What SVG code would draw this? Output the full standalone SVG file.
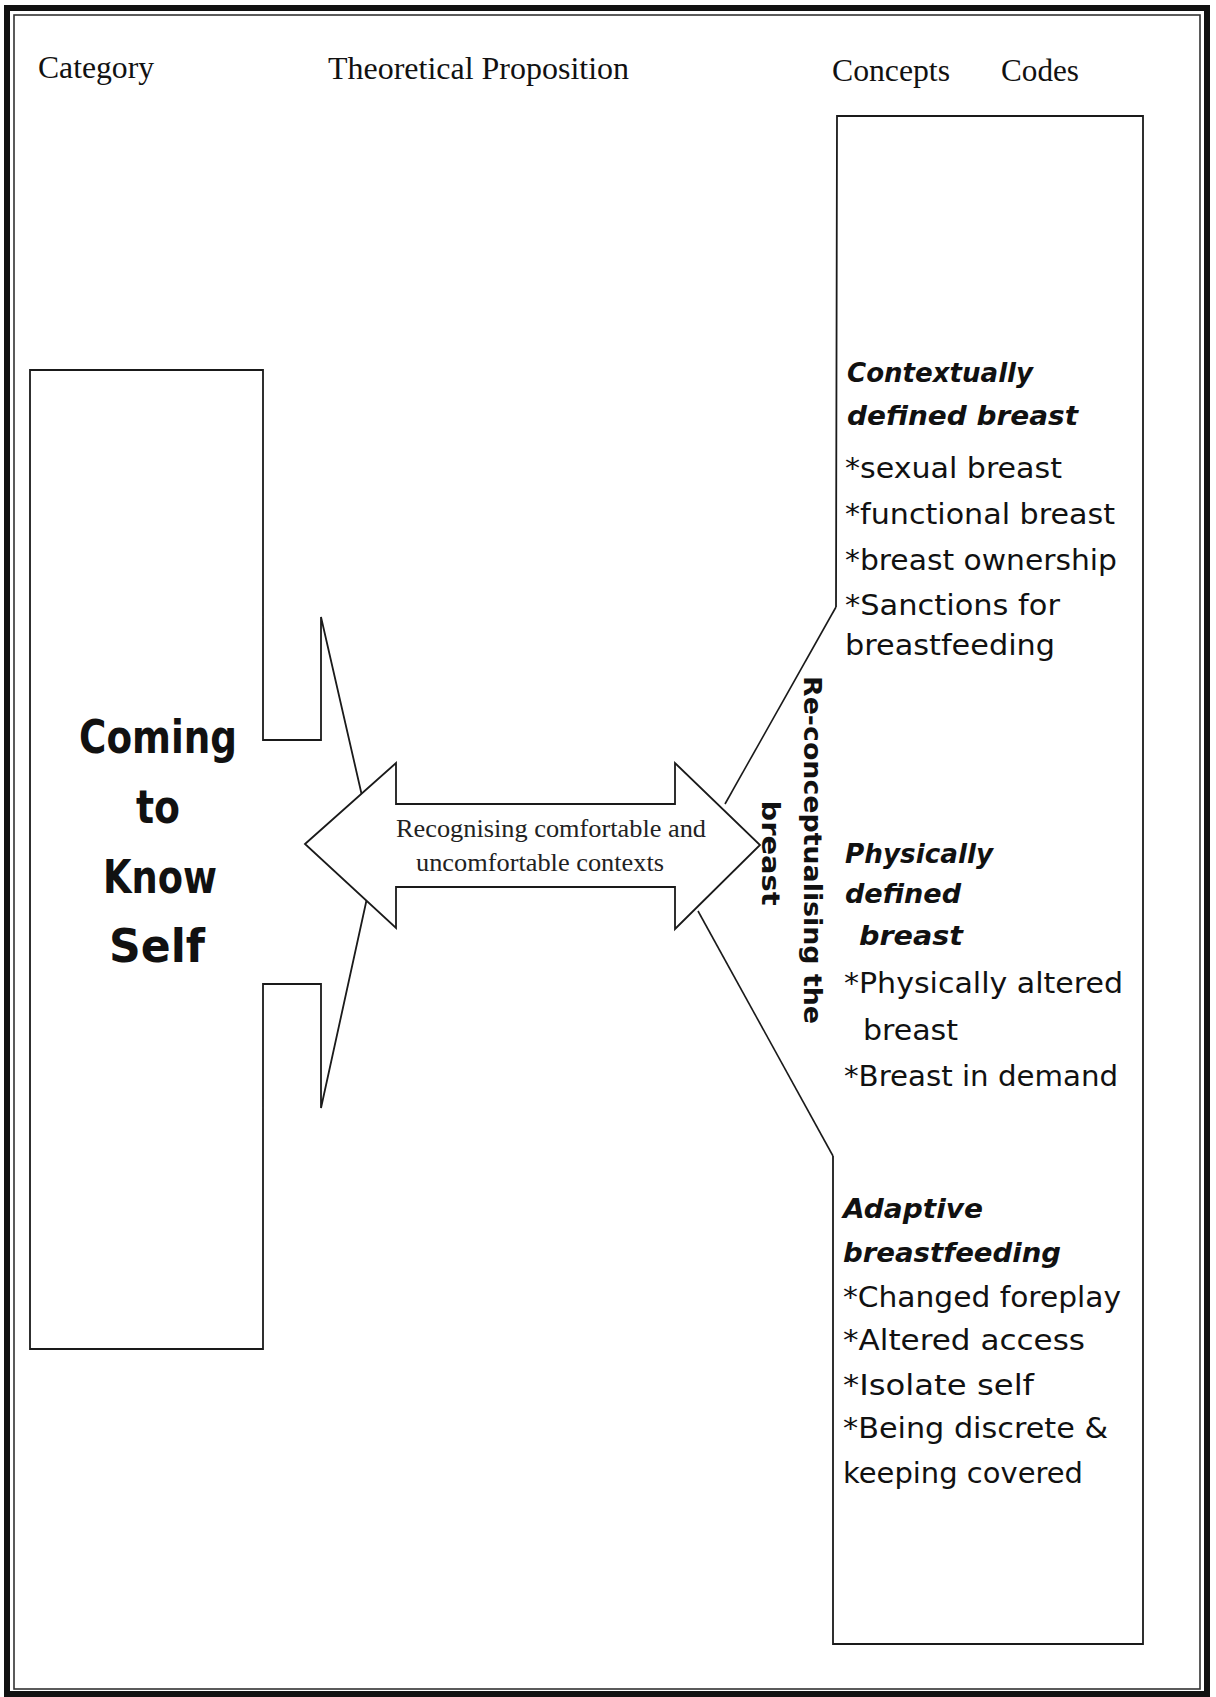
<svg xmlns="http://www.w3.org/2000/svg" width="1216" height="1697" viewBox="0 0 1216 1697">
  <style>
    .frame-outer { fill: none; stroke: #111; stroke-width: 6; }
    .frame-inner { fill: none; stroke: #333; stroke-width: 1.6; }
    .shape { fill: #fff; stroke: #1a1a1a; stroke-width: 1.8; stroke-linejoin: miter; }
    .edge { fill: none; stroke: #1a1a1a; stroke-width: 1.6; }
    .hdr { font-family: "Liberation Serif", "Times New Roman", serif; font-size: 32px; fill: #111; }
    .prop { font-family: "Liberation Serif", "Times New Roman", serif; font-size: 25px; fill: #222; text-anchor: middle; }
    .cat { font-family: "DejaVu Sans", sans-serif; font-size: 46px; font-weight: bold; fill: #111; text-anchor: middle; }
    .side { font-family: "DejaVu Sans", sans-serif; font-size: 25px; font-weight: bold; fill: #111; text-anchor: middle; }
    .concept { font-family: "DejaVu Sans", sans-serif; font-size: 26px; font-weight: bold; font-style: italic; fill: #111; }
    .code { font-family: "DejaVu Sans", sans-serif; font-size: 29px; fill: #111; }
  </style>

  <rect width="1216" height="1697" fill="#fff"/>

  <!-- page frame: heavy outer rule with a thin inner rule -->
  <g id="frame">
    <rect class="frame-outer" x="7" y="8" width="1200" height="1686"/>
    <rect class="frame-inner" x="14" y="15" width="1186" height="1674"/>
  </g>

  <!-- column headings -->
  <g id="headings">
    <text class="hdr" x="38" y="78" textLength="116" lengthAdjust="spacingAndGlyphs">Category</text>
    <text class="hdr" x="328" y="79" textLength="301" lengthAdjust="spacingAndGlyphs">Theoretical Proposition</text>
    <text class="hdr" x="832" y="81" textLength="118" lengthAdjust="spacingAndGlyphs">Concepts</text>
    <text class="hdr" x="1001" y="81" textLength="78" lengthAdjust="spacingAndGlyphs">Codes</text>
  </g>

  <!-- category: box with a right-pointing callout arrow -->
  <g id="node-category">
    <polygon class="shape" points="30,370 263,370 263,740 321,740 321,617 376,857 321,1108 321,984 263,984 263,1349 30,1349"/>
    <text class="cat" x="158" y="753" textLength="158" lengthAdjust="spacingAndGlyphs">Coming</text>
    <text class="cat" x="158" y="823" textLength="44" lengthAdjust="spacingAndGlyphs">to</text>
    <text class="cat" x="160" y="893" textLength="114" lengthAdjust="spacingAndGlyphs">Know</text>
    <text class="cat" x="157" y="962" textLength="96" lengthAdjust="spacingAndGlyphs">Self</text>
  </g>

  <!-- concepts and codes box, open on its left side where the callout lines meet it -->
  <g id="node-concepts">
    <path class="shape" d="M836,607 L837,116 L1143,116 L1143,1644 L833,1644 L833,1156"/>

    <g id="concept-contextual">
      <text class="concept" x="847" y="382" textLength="186" lengthAdjust="spacingAndGlyphs">Contextually</text>
      <text class="concept" x="847" y="425" textLength="231" lengthAdjust="spacingAndGlyphs">defined breast</text>
      <text class="code" x="845" y="478" textLength="217" lengthAdjust="spacingAndGlyphs">*sexual breast</text>
      <text class="code" x="845" y="524" textLength="270" lengthAdjust="spacingAndGlyphs">*functional breast</text>
      <text class="code" x="845" y="570" textLength="272" lengthAdjust="spacingAndGlyphs">*breast ownership</text>
      <text class="code" x="845" y="615" textLength="215" lengthAdjust="spacingAndGlyphs">*Sanctions for</text>
      <text class="code" x="845" y="655" textLength="210" lengthAdjust="spacingAndGlyphs">breastfeeding</text>
    </g>

    <g id="concept-physical">
      <text class="concept" x="845" y="863" textLength="148" lengthAdjust="spacingAndGlyphs">Physically</text>
      <text class="concept" x="845" y="903" textLength="116" lengthAdjust="spacingAndGlyphs">defined</text>
      <text class="concept" x="859" y="945" textLength="104" lengthAdjust="spacingAndGlyphs">breast</text>
      <text class="code" x="844" y="993" textLength="279" lengthAdjust="spacingAndGlyphs">*Physically altered</text>
      <text class="code" x="863" y="1040" textLength="95" lengthAdjust="spacingAndGlyphs">breast</text>
      <text class="code" x="844" y="1086" textLength="274" lengthAdjust="spacingAndGlyphs">*Breast in demand</text>
    </g>

    <g id="concept-adaptive">
      <text class="concept" x="843" y="1218" textLength="140" lengthAdjust="spacingAndGlyphs">Adaptive</text>
      <text class="concept" x="843" y="1262" textLength="218" lengthAdjust="spacingAndGlyphs">breastfeeding</text>
      <text class="code" x="843" y="1307" textLength="278" lengthAdjust="spacingAndGlyphs">*Changed foreplay</text>
      <text class="code" x="843" y="1350" textLength="242" lengthAdjust="spacingAndGlyphs">*Altered access</text>
      <text class="code" x="843" y="1395" textLength="191" lengthAdjust="spacingAndGlyphs">*Isolate self</text>
      <text class="code" x="843" y="1438" textLength="265" lengthAdjust="spacingAndGlyphs">*Being discrete &amp;</text>
      <text class="code" x="843" y="1483" textLength="240" lengthAdjust="spacingAndGlyphs">keeping covered</text>
    </g>
  </g>

  <!-- callout lines from the concepts box to the proposition arrow -->
  <g id="connectors">
    <line class="edge" x1="836" y1="607" x2="725" y2="804"/>
    <line class="edge" x1="833" y1="1156" x2="698" y2="911"/>
  </g>

  <!-- theoretical proposition: double-headed block arrow -->
  <g id="node-proposition">
    <polygon class="shape" points="305,844 396,763 396,804 675,804 675,763 760,845 675,929 675,887 396,887 396,928"/>
    <text class="prop" x="551" y="837" textLength="310" lengthAdjust="spacingAndGlyphs">Recognising comfortable and</text>
    <text class="prop" x="540" y="871" textLength="248" lengthAdjust="spacingAndGlyphs">uncomfortable contexts</text>
  </g>

  <!-- vertical label read top to bottom -->
  <g id="label-reconceptualising">
    <text class="side" transform="translate(804,850) rotate(90)" textLength="348" lengthAdjust="spacingAndGlyphs">Re-conceptualising the</text>
    <text class="side" transform="translate(762,853) rotate(90)" textLength="105" lengthAdjust="spacingAndGlyphs">breast</text>
  </g>
</svg>
